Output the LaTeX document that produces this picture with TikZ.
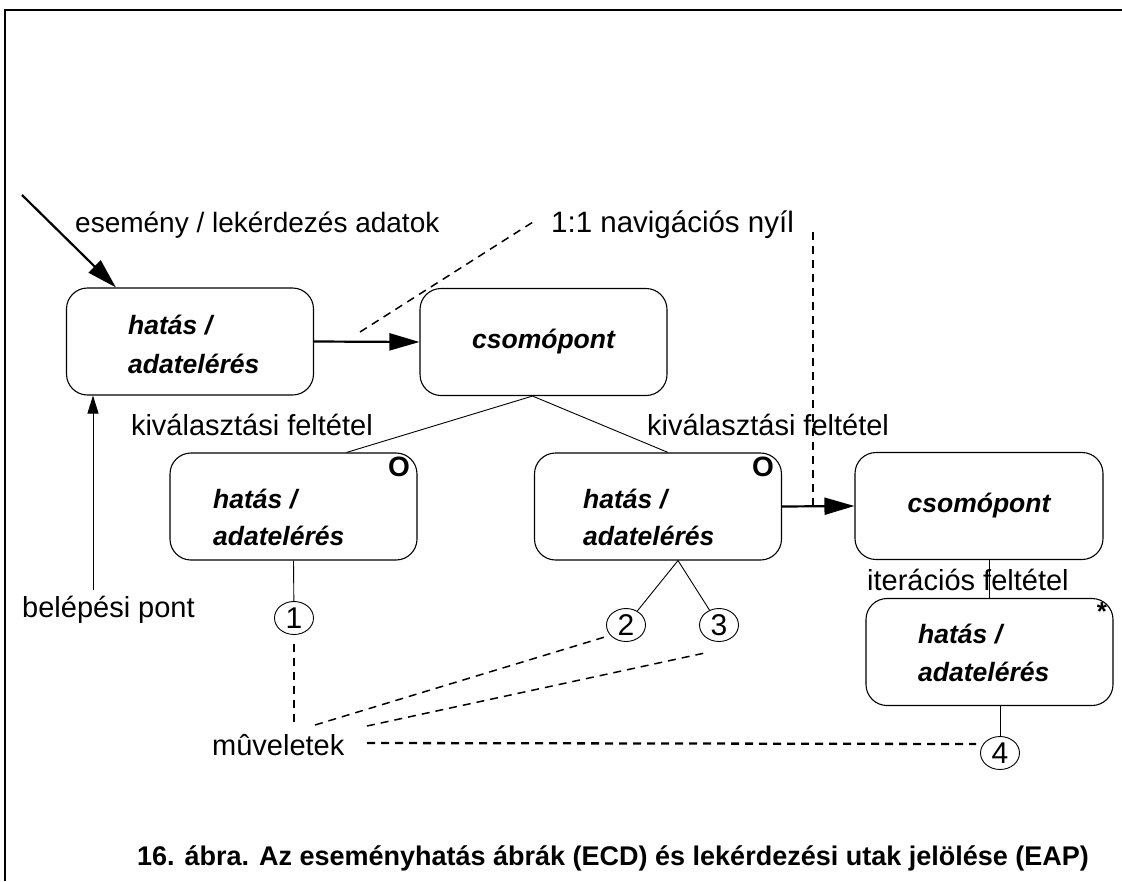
\documentclass[tikz,border=0pt]{standalone}
\usepackage{fontspec}
\setmainfont{Liberation Sans}
\usetikzlibrary{arrows.meta,shapes.geometric,calc}

\begin{document}
\begin{tikzpicture}[x=1pt,y=-1pt,
  box/.style={draw, line width=1.1pt, rounded corners=21pt,
    minimum width=247pt, minimum height=107pt,
    font=\fontsize{26.5}{39}\selectfont\bfseries\itshape},
  boxtext/.style={anchor=base west, inner sep=0pt,
    font=\fontsize{26.5}{39}\selectfont\bfseries\itshape},
  lbl/.style={inner sep=0pt, font=\fontsize{29}{32}\selectfont},
  num/.style={draw, ellipse, line width=0.9pt, minimum width=39pt,
    minimum height=33pt, inner sep=0pt, font=\fontsize{30}{30}\selectfont},
  boxmark/.style={inner sep=0pt, font=\fontsize{28}{28}\selectfont\bfseries},
  conn/.style={line width=0.9pt},
  thickarrow/.style={line width=2.2pt, -{Triangle[length=30pt,width=17pt]}},
  thinarrow/.style={line width=1pt, -{Triangle[length=18pt,width=11pt]}},
  navdash/.style={line width=1.5pt, dash pattern=on 8pt off 6pt},
  opdash/.style={line width=2.3pt, dash pattern=on 8pt off 6pt},
]
\useasboundingbox (0,0) rectangle (1122,881);

% frame
\draw[line width=2.2pt] (1122,10) -- (5,10) -- (5,881);

% boxes
\node[box] (A) at (190,341.5) {};
\node[box] (B) at (543.5,342) {csomópont};
\node[box] (C) at (293.5,506.5) {};
\node[box] (D) at (658,506.5) {};
\node[box, minimum width=248pt] (E) at (979,506) {csomópont};
\node[box] (F) at (989.5,652) {};

% box texts
\node[boxtext] (tA1) at (128,334) {hatás /};
\node[boxtext] (tA2) at (128,373) {adatelérés};
\node[boxtext] (tC1) at (213,508) {hatás /};
\node[boxtext] (tC2) at (213,545) {adatelérés};
\node[boxtext] (tD1) at (583,508) {hatás /};
\node[boxtext] (tD2) at (583,545) {adatelérés};
\node[boxtext] (tF1) at (918,643) {hatás /};
\node[boxtext] (tF2) at (918,681) {adatelérés};

% optional / iteration markers
\node[boxmark] (oC) at (399,467) {O};
\node[boxmark] (oD) at (763,467) {O};
\node[boxmark, font=\fontsize{26}{26}\selectfont\bfseries] (sF) at (1102,612) {*};

% operation circles
\node[num] (c1) at (294,618) {1};
\node[num] (c2) at (626,625) {2};
\node[num] (c3) at (719,625) {3};
\node[num] (c4) at (1000,753) {4};

% labels
\node[lbl, anchor=west, font=\fontsize{28}{32}\selectfont] (ev) at (75,225) {esemény / lekérdezés adatok};
\node[lbl, anchor=west, font=\fontsize{29.5}{32}\selectfont] (nav) at (551,225) {1:1 navigációs nyíl};
\node[lbl, anchor=east] (sel1) at (373,425) {kiválasztási feltétel};
\node[lbl, anchor=west] (sel2) at (647,425) {kiválasztási feltétel};
\node[lbl, anchor=west] (iter) at (867,580) {iterációs feltétel};
\node[lbl, anchor=west] (entry) at (22,610) {belépési pont};
\node[lbl, anchor=west] (ops) at (212,745) {mûveletek};
\node[inner sep=0pt, font=\fontsize{27}{30}\selectfont\bfseries] (cap) at (613,858)
  {16. ábra. Az eseményhatás ábrák (ECD) és lekérdezési utak jelölése (EAP)};

% entry arrows
\coordinate (inStart) at (22,195);
\coordinate (entFoot) at (93,590);
\draw[thickarrow] (inStart) -- ($(A.north west)+(50,0)$);
\draw[thinarrow] (entFoot) -- (entFoot |- A.south);

% navigation arrows
\draw[thickarrow] (A.east) -- (B.west);
\draw[thickarrow] (D.east) -- (E.west);

% selection / iteration links
\draw[conn] ($(B.south)+(-11,0)$) -- ($(C.north)+(53,0)$);
\draw[conn] ($(B.south)+(-11,0)$) -- ($(D.north)+(10,0)$);
\draw[conn] (F.north) -- (F.north |- E.south);

% operation links
\draw[conn] (C.south) -- (c1);
\draw[conn] ($(D.south)+(20,0)$) -- (c2);
\draw[conn] ($(D.south)+(20,0)$) -- (c3);
\draw[conn] (c4) -- (c4 |- F.south);

% pointer lines of the labels
\coordinate (navFoot) at (360,332);
\coordinate (navEnd) at (533,222);
\coordinate (navTop) at (813,232);
\draw[navdash] (navFoot) -- (navEnd);
\draw[navdash, line width=2pt] (navTop) -- (navTop |- E.west);

\coordinate (op1) at (294,727);
\coordinate (op2) at (315,725);
\coordinate (op3) at (367,726);
\coordinate (op4) at (367,743);
\draw[opdash] ($(c1.south)+(0,9)$) -- (op1);
\draw[navdash] (op2) -- ($(c2.west)+(2,11)$);
\draw[navdash] (op3) -- ($(c3.south)+(-14,11)$);
\draw[opdash] (op4) -- ($(c4.west)+(-4,-9)$);
\end{tikzpicture}
\end{document}
